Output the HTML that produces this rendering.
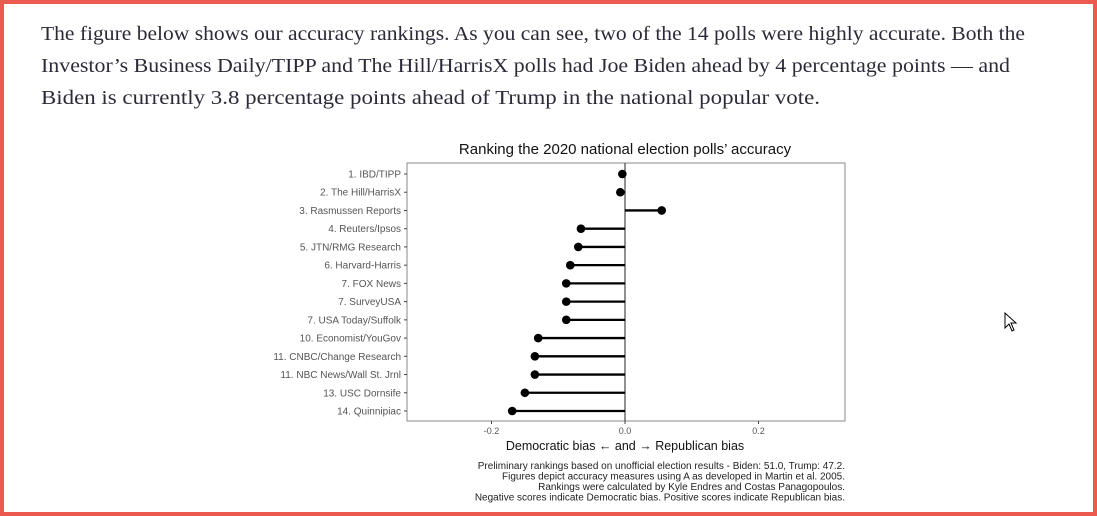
<!DOCTYPE html>
<html><head><meta charset="utf-8"><style>
html,body{margin:0;padding:0;background:#fff}
#frame{position:absolute;left:0;top:0;width:1089px;height:508px;border:4px solid #ec5a4f;background:#fff}
svg{position:absolute;left:0;top:0}
</style></head><body>
<div id="frame"></div>
<svg width="1097" height="516">
<g font-family="'Liberation Serif',serif" font-size="19.5" fill="#2b2b38">
<text x="41" y="40" textLength="984" lengthAdjust="spacingAndGlyphs">The figure below shows our accuracy rankings. As you can see, two of the 14 polls were highly accurate. Both the</text>
<text x="41" y="72" textLength="969" lengthAdjust="spacingAndGlyphs">Investor’s Business Daily/TIPP and The Hill/HarrisX polls had Joe Biden ahead by 4 percentage points — and</text>
<text x="41" y="104" textLength="779" lengthAdjust="spacingAndGlyphs">Biden is currently 3.8 percentage points ahead of Trump in the national popular vote.</text>
</g>
<g id="chart" font-family="'Liberation Sans',sans-serif"></g>
<path d="M1005 313 L1005 328 L1009 324 L1012 331 L1014 330 L1011 323 L1016 323 Z" fill="#fff" stroke="#000" stroke-width="1"/>
</svg>
<script>
const categories=["1. IBD/TIPP","2. The Hill/HarrisX","3. Rasmussen Reports","4. Reuters/Ipsos","5. JTN/RMG Research","6. Harvard-Harris","7. FOX News","7. SurveyUSA","7. USA Today/Suffolk","10. Economist/YouGov","11. CNBC/Change Research","11. NBC News/Wall St. Jrnl","13. USC Dornsife","14. Quinnipiac"];
const biasValues=[-0.004,-0.007,0.055,-0.066,-0.07,-0.082,-0.088,-0.088,-0.088,-0.13,-0.135,-0.135,-0.15,-0.169];
const xTicks=[-0.2,0.0,0.2];
const xTickLabels=["-0.2","0.0","0.2"];
const NS="http://www.w3.org/2000/svg";
const g=document.getElementById('chart');
const L=407,R=845,T=163,B=421;
const x=v=>625+v*667.5;
const y=i=>174+i*(411-174)/(categories.length-1);
function mk(tag,attrs,parent){const e=document.createElementNS(NS,tag);for(const k in attrs)e.setAttribute(k,attrs[k]);(parent||g).appendChild(e);return e;}
let t=mk('text',{x:625,y:154,'text-anchor':'middle','font-size':15,fill:'#111'});t.textContent="Ranking the 2020 national election polls’ accuracy";


let p=mk('rect',{x:L,y:T,width:R-L,height:B-T,fill:'#fff',stroke:'#888','stroke-width':1});


let z=mk('line',{x1:x(0),x2:x(0),y1:T,y2:B,stroke:'#222','stroke-width':1});


categories.forEach((c,i)=>{
 let tk=mk('line',{x1:L-3,x2:L,y1:y(i),y2:y(i),stroke:'#444'});
 
 
 let lb=mk('text',{x:L-6,y:y(i)+3.5,'text-anchor':'end','font-size':10,fill:'#555'});lb.textContent=c;
 
 
 let s=mk('line',{x1:x(0),x2:x(biasValues[i]),y1:y(i),y2:y(i),stroke:'#000','stroke-width':2.3});
 
 
 let d=mk('circle',{cx:x(biasValues[i]),cy:y(i),r:4.3,fill:'#000'});
 
 
});
xTicks.forEach((v,i)=>{
 let tk=mk('line',{x1:x(v),x2:x(v),y1:B,y2:B+3,stroke:'#444'});
 
 
 let lb=mk('text',{x:x(v),y:B+13,'text-anchor':'middle','font-size':9,fill:'#555'});lb.textContent=xTickLabels[i];
 
 
});
let xt=mk('text',{x:625,y:450,'text-anchor':'middle','font-size':12.5,fill:'#111'});xt.textContent="Democratic bias ← and → Republican bias";


const notes=["Preliminary rankings based on unofficial election results - Biden: 51.0, Trump: 47.2.","Figures depict accuracy measures using A as developed in Martin et al. 2005.","Rankings were calculated by Kyle Endres and Costas Panagopoulos.","Negative scores indicate Democratic bias. Positive scores indicate Republican bias."];
notes.forEach((n,i)=>{
 let e=mk('text',{x:845,y:469+i*10.5,'text-anchor':'end','font-size':10,fill:'#222'});e.textContent=n;
 
 
});
</script>
</body></html>
